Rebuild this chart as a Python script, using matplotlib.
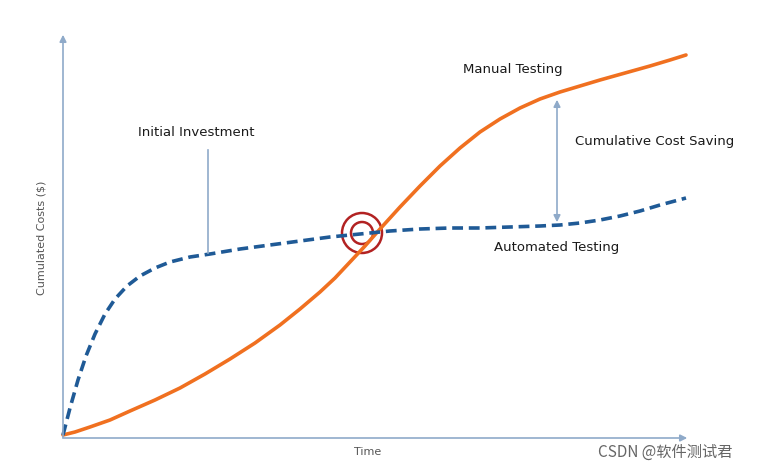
import matplotlib
matplotlib.use("Agg")
import matplotlib.pyplot as plt
from matplotlib.patches import Circle

manual_x = [63, 75, 90, 110, 130, 155, 180, 205, 230, 255, 280, 300, 320, 335, 350, 365, 380, 400, 420, 440, 460, 480, 500, 520, 540, 560, 580, 600, 625, 650, 670, 686]
manual_y = [435, 432, 427, 420, 411, 400, 388, 374, 359, 343, 325, 309, 292, 278, 262, 246, 229, 207, 186, 166, 148, 132, 119, 108, 99, 92, 86, 80, 73, 66, 60, 55]
auto_x = [63, 70, 78, 86, 95, 105, 115, 127, 140, 155, 170, 190, 210, 240, 270, 300, 330, 360, 390, 420, 450, 480, 510, 540, 560, 580, 600, 620, 640, 660, 686]
auto_y = [435, 408, 380, 356, 334, 314, 299, 286, 276, 268, 262, 257, 254, 249, 245, 241, 237, 234, 231, 229, 228, 228, 227, 226, 225, 223, 220, 216, 211, 205, 198]

fig = plt.figure(figsize=(7.68, 4.71), dpi=100)
ax = fig.add_axes([0, 0, 1, 1])
ax.set_xlim(0, 768); ax.set_ylim(471, 0); ax.axis("off")

axc = "#8faac9"
ax.annotate("", xy=(63, 32), xytext=(63, 440), arrowprops=dict(arrowstyle="-|>", color=axc, lw=1.2))
ax.annotate("", xy=(690, 438), xytext=(60, 438), arrowprops=dict(arrowstyle="-|>", color=axc, lw=1.2))

ax.plot(manual_x, manual_y, color="#f07020", lw=2.6, solid_capstyle="round", solid_joinstyle="round")
ax.plot(auto_x, auto_y, color="#1f5a96", lw=2.6, ls=(0, (3, 1.6)))

ax.add_patch(Circle((362, 233), 20, fill=False, ec="#b22222", lw=1.8))
ax.add_patch(Circle((362, 233), 11, fill=False, ec="#b22222", lw=1.8))

ax.plot([208, 208], [150, 253], color="#8faac9", lw=1.2)
ax.annotate("", xy=(557, 97), xytext=(557, 225), arrowprops=dict(arrowstyle="<|-|>", color="#8faac9", lw=1.2))

f = dict(fontsize=9.5, color="#1a1a1a", family="DejaVu Sans")
ax.text(513, 70, "Manual Testing", ha="center", va="center", **f)
ax.text(196, 132, "Initial Investment", ha="center", va="center", **f)
ax.text(655, 142, "Cumulative Cost Saving", ha="center", va="center", **f)
ax.text(557, 247, "Automated Testing", ha="center", va="center", **f)
ax.text(368, 452, "Time", ha="center", va="center", fontsize=8, color="#555555")
ax.text(41, 238, "Cumulated Costs ($)", ha="center", va="center", rotation=90, fontsize=8, color="#555555")
ax.text(665, 452, "CSDN @软件测试君", ha="center", va="center", fontsize=11, color="#666666",
        family=["Noto Sans CJK SC", "DejaVu Sans"])
fig.savefig("out.png", dpi=100)
